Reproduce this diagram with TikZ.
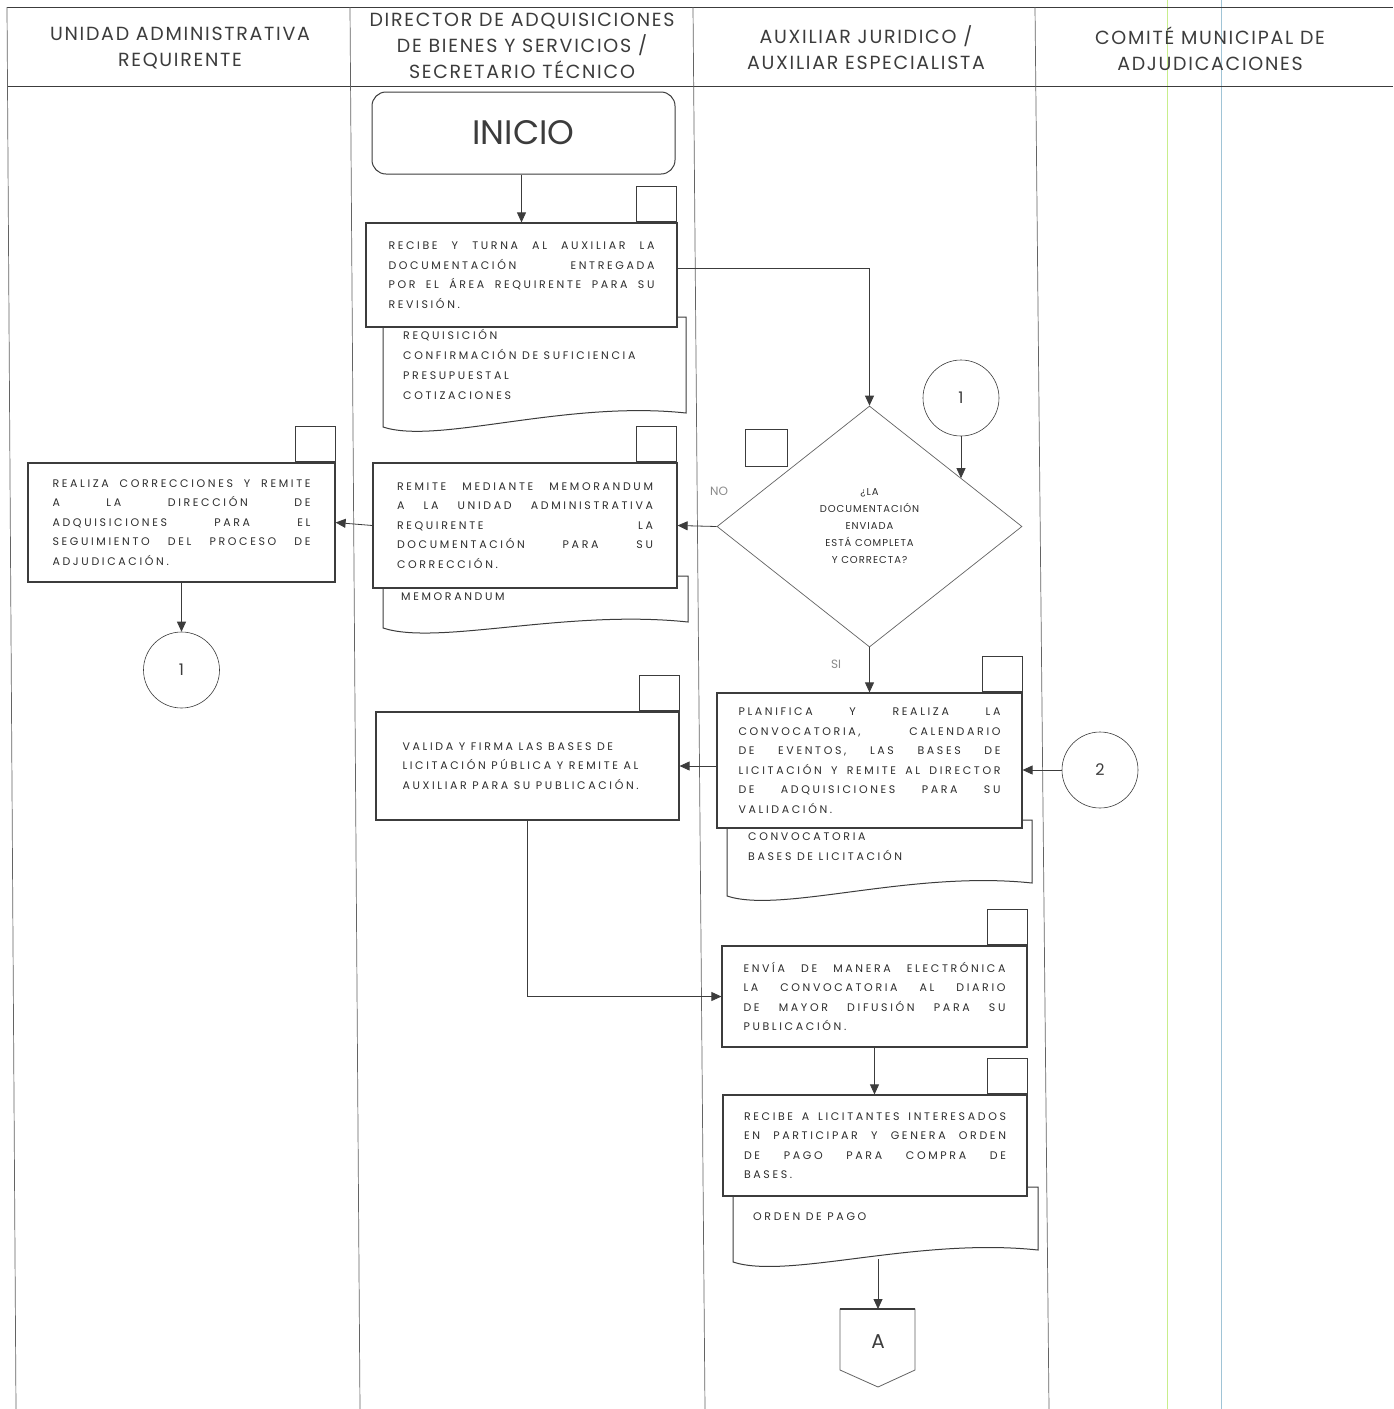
\documentclass[tikz,border=0pt]{standalone}
\usepackage{fontspec}
\setmainfont{Poppins}
\newfontfamily\boxfont[LetterSpace=24]{Poppins}
\newfontfamily\diafont[LetterSpace=10]{Poppins}
\newfontfamily\headfont[LetterSpace=9]{Poppins}
\usetikzlibrary{arrows.meta,shapes.geometric,calc}
\newcommand\jl[1]{\makebox[\linewidth][s]{#1}}
\newcommand\docshape[6]{%
  \draw[docline] (#2,#3) -- (#4,#3) -- (#4,#6)
    .. controls ({#2+0.6*(#4-#2)},{#6-13}) and ({#2+0.18*(#4-#2)},{#5+18}) .. (#2,#5) -- cycle;}
\definecolor{ink}{RGB}{60,60,60}
\definecolor{txt}{RGB}{45,45,45}
\definecolor{scangreen}{RGB}{200,238,140}
\definecolor{scanblue}{RGB}{160,196,214}
\tikzset{
  laneline/.style={draw=ink!80, line width=0.7pt},
  headline/.style={draw=ink, line width=1pt},
  box/.style={draw=ink, line width=1.2pt, fill=white, rectangle, inner sep=0pt,
     text=txt, font=\boxfont\fontsize{11}{19.5}\selectfont},
  tab/.style={draw=ink, line width=1pt, fill=white, rectangle, inner sep=0pt,
     minimum width=40pt, minimum height=35pt, anchor=south east},
  docline/.style={draw=ink, line width=1pt, fill=white},
  doctext/.style={inner sep=0pt, align=left, text=txt, font=\boxfont\fontsize{11}{20}\selectfont},
  conn/.style={draw=ink, line width=0.6pt, fill=white, circle, inner sep=0pt, minimum size=76pt,
     text=ink, font=\fontsize{16}{16}\selectfont},
  arr/.style={draw=ink, line width=0.8pt, -{Triangle[length=10pt,width=9pt]}},
  head/.style={align=center, text=ink, font=\headfont\fontsize{19}{26}\selectfont},
  lbl/.style={text=ink!60, font=\fontsize{12}{12}\selectfont, inner sep=0pt}
}
\begin{document}
\begin{tikzpicture}[x=1pt,y=-1pt]
\useasboundingbox (0,0) rectangle (1393,1409);
\fill[white] (0,0) rectangle (1393,1409);
% scan artefacts
\draw[scangreen, line width=1pt] (1167,0) -- (1167,1409);
\draw[scanblue, line width=1pt] (1221,0) -- (1221,1409);
% lanes
\draw[headline] (7,7) -- (1393,7);
\draw[headline] (7,86) -- (1393,86);
\draw[laneline] (7,7) -- (16,1409);
\draw[laneline] (350,7) -- (360,1409);
\draw[laneline] (693,7) -- (705,1409);
\draw[laneline] (1035,7) -- (1049,1409);
% headers
\node[head] (h1) at (180,48) {UNIDAD ADMINISTRATIVA\\REQUIRENTE};
\node[head] (h2) at (522,46) {DIRECTOR DE ADQUISICIONES\\DE BIENES Y SERVICIOS /\\SECRETARIO TÉCNICO};
\node[head] (h3) at (866,48) {AUXILIAR JURIDICO /\\AUXILIAR ESPECIALISTA};
\node[head] (h4) at (1210,49) {COMITÉ MUNICIPAL DE\\ADJUDICACIONES};
% start
\node[draw=ink, line width=1pt, rounded corners=14pt, minimum width=303pt, minimum height=82pt,
      text=ink, font=\fontsize{34}{34}\selectfont] (inicio) at (523.5,133) {INICIO};
% box 1 + doc
\docshape{d1}{383}{317}{686}{427}{413}
\node[doctext, anchor=north west] (d1t) at (403,329) {REQUISICIÓN\\CONFIRMACIÓN DE SUFICIENCIA\\PRESUPUESTAL\\COTIZACIONES};
\node[box, minimum width=311pt, minimum height=104pt] (b1) at (521.5,275)
  {\parbox{266pt}{\jl{RECIBE Y TURNA AL AUXILIAR LA}\\\jl{DOCUMENTACIÓN ENTREGADA}\\\jl{POR EL ÁREA REQUIRENTE PARA SU}\\REVISIÓN.}};
\node[tab] (t1) at ([xshift=-1pt]b1.north east) {};
% decision
\node[draw=ink!80, line width=0.7pt, diamond, aspect=1.27, minimum width=305pt, minimum height=241pt,
      inner sep=0pt, align=center, text=txt, font=\diafont\fontsize{10}{17}\selectfont] (dia) at (869.5,526.5)
  {¿LA\\DOCUMENTACIÓN\\ENVIADA\\ESTÁ COMPLETA\\Y CORRECTA?};
\node[draw=ink, line width=1pt, minimum width=42pt, minimum height=37pt, inner sep=0pt] (sq) at (766,447.5) {};
\node[lbl] (no) at (719,491) {NO};
\node[lbl] (si) at (836,664) {SI};
\node[conn] (c1r) at (961,398) {1};
\coordinate (diaedge) at ($(dia.north)!0.6!(dia.east)$);
% box 2 + doc
\docshape{d2}{383}{576}{688}{628}{622}
\node[doctext, anchor=west] (d2t) at (401,597) {MEMORANDUM};
\node[box, minimum width=304pt, minimum height=125pt] (b2) at (525,525.5)
  {\parbox{256pt}{\jl{REMITE MEDIANTE MEMORANDUM}\\\jl{A LA UNIDAD ADMINISTRATIVA}\\\jl{REQUIRENTE LA}\\\jl{DOCUMENTACIÓN PARA SU}\\CORRECCIÓN.}};
\node[tab] (t2) at ([xshift=-1pt]b2.north east) {};
% left box
\node[box, minimum width=307pt, minimum height=119pt] (bl) at (181.5,522.5)
  {\parbox{258pt}{\jl{REALIZA CORRECCIONES Y REMITE}\\\jl{A LA DIRECCIÓN DE}\\\jl{ADQUISICIONES PARA EL}\\\jl{SEGUIMIENTO DEL PROCESO DE}\\ADJUDICACIÓN.}};
\node[tab] (tl) at (bl.north east) {};
\node[conn] (c1l) at (181.5,670) {1};
% box A1 + doc
\docshape{da1}{727}{820}{1032}{896}{883}
\node[doctext, anchor=north west] (da1t) at (748,833) {CONVOCATORIA\\BASES DE LICITACIÓN};
\node[box, minimum width=305pt, minimum height=135pt] (a1) at (869.5,760.5)
  {\parbox{262pt}{\jl{PLANIFICA Y REALIZA LA}\\\jl{CONVOCATORIA, CALENDARIO}\\\jl{DE EVENTOS, LAS BASES DE}\\\jl{LICITACIÓN Y REMITE AL DIRECTOR}\\\jl{DE ADQUISICIONES PARA SU}\\VALIDACIÓN.}};
\node[tab] (ta1) at (a1.north east) {};
\node[conn] (c2) at (1100,770) {2};
% box D3
\node[box, minimum width=303pt, minimum height=108pt] (d3) at (527.5,766)
  {\parbox{250pt}{VALIDA Y FIRMA LAS BASES DE\\LICITACIÓN PÚBLICA Y REMITE AL\\AUXILIAR PARA SU PUBLICACIÓN.}};
\node[tab] (td3) at (d3.north east) {};
% box A2
\node[box, minimum width=305pt, minimum height=101pt] (a2) at (874.5,996.5)
  {\parbox{262pt}{\jl{ENVÍA DE MANERA ELECTRÓNICA}\\\jl{LA CONVOCATORIA AL DIARIO}\\\jl{DE MAYOR DIFUSIÓN PARA SU}\\PUBLICACIÓN.}};
\node[tab] (ta2) at (a2.north east) {};
% box A3 + doc
\docshape{da3}{733}{1187}{1038}{1262}{1250}
\node[doctext, anchor=west] (da3t) at (753,1217) {ORDEN DE PAGO};
\node[box, minimum width=304pt, minimum height=101pt] (a3) at (875,1145.5)
  {\parbox{262pt}{\jl{RECIBE A LICITANTES INTERESADOS}\\\jl{EN PARTICIPAR Y GENERA ORDEN}\\\jl{DE PAGO PARA COMPRA DE}\\BASES.}};
\node[tab] (ta3) at (a3.north east) {};
\coordinate (da3b) at (878,1259);
% off-page connector
\draw[draw=ink!80, line width=0.8pt, fill=white] (840,1309) -- (915,1309) -- (915,1370) -- (878,1387) -- (840,1370) -- cycle;
\draw[draw=ink, line width=1.6pt] (840,1309) -- (915,1309);
\node[text=ink, font=\fontsize{20}{20}\selectfont, inner sep=0pt] (offA) at (878,1342) {A};
\coordinate (offAtop) at (878,1309);
% connectors
\draw[arr] (inicio.south -| b1.north) -- (b1.north);
\draw[arr] ([yshift=7pt]b1.east) -| (dia.north);
\draw[arr] (dia.west) -- (b2.east);
\draw[arr] (b2.west) -- (bl.east);
\draw[arr] (bl.south) -- (c1l.north);
\draw[arr] (c1r.south) -- (c1r.south |- diaedge);
\draw[arr] (dia.south) -- (a1.north);
\draw[arr] (c2.west) -- (c2.west -| a1.east);
\draw[arr] (d3.east -| a1.west) -- (d3.east);
\draw[arr] (d3.south) |- (a2.west);
\draw[arr] (a2.south) -- (a2.south |- a3.north);
\draw[arr] (da3b) -- (offAtop);
\end{tikzpicture}
\end{document}
